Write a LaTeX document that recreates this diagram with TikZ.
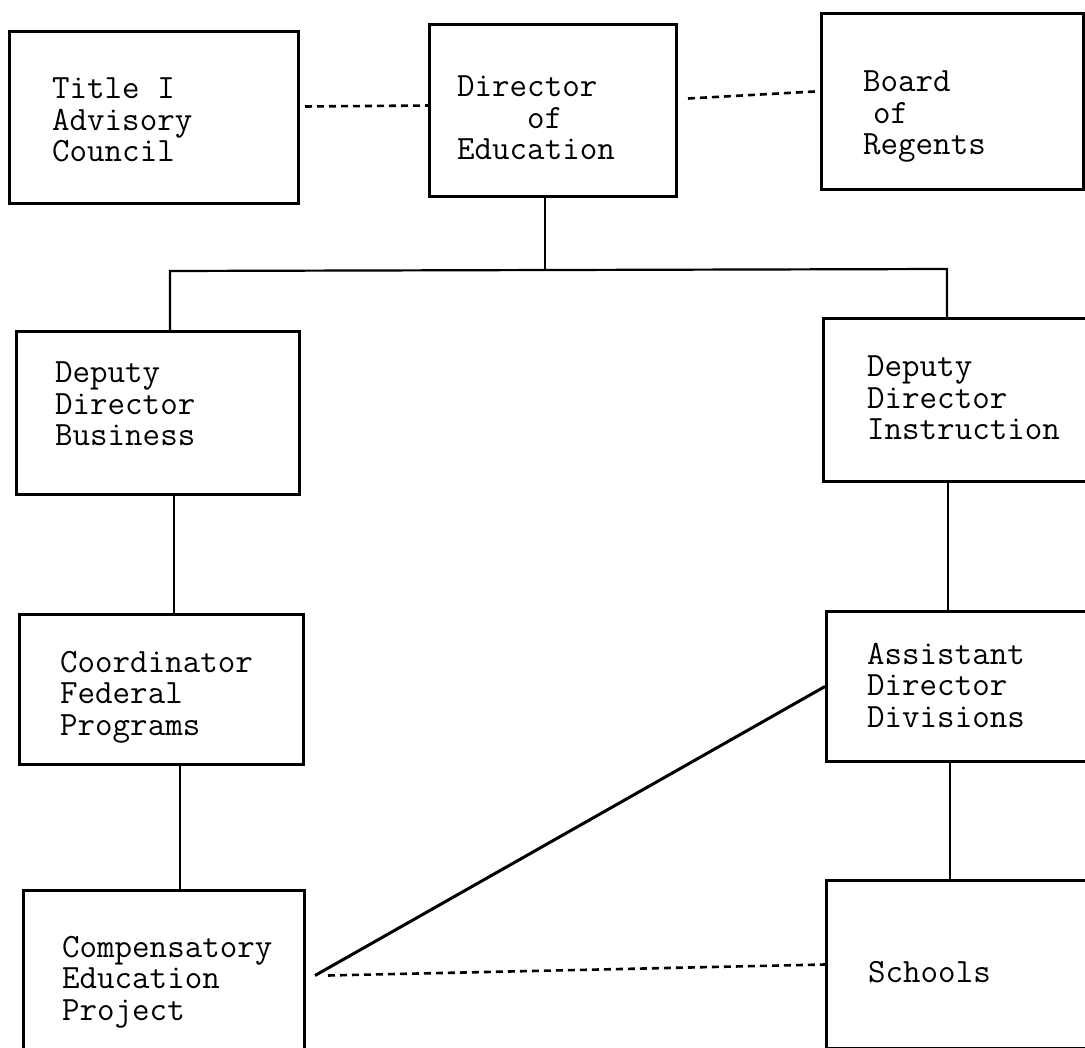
\documentclass[tikz,border=0pt]{standalone}
\usepackage{fontspec}
\begin{document}
\begin{tikzpicture}[x=1pt,y=-1pt,
  box/.style={draw, line width=3pt, rectangle, inner sep=0pt, anchor=north west},
  lbl/.style={font=\ttfamily\fontsize{34}{31.5}\selectfont, align=left, anchor=base west, inner sep=0pt},
  conn/.style={line width=2.2pt},
  diag/.style={line width=3pt},
  dconn/.style={line width=2.6pt, dash pattern=on 7pt off 5pt}]
\useasboundingbox (0,0) rectangle (1085,1048);
\clip (0,0) rectangle (1085,1048);
% boxes
\node[box, minimum width=289pt, minimum height=172pt] (title) at (8,30) {};
\node[box, minimum width=247pt, minimum height=172pt] (director) at (428,23) {};
\node[box, minimum width=262pt, minimum height=176pt] (board) at (820,12) {};
\node[box, minimum width=283pt, minimum height=163pt] (depb) at (15,330) {};
\node[box, minimum width=280pt, minimum height=163pt] (depi) at (822,317) {};
\node[box, minimum width=284pt, minimum height=150pt] (coord) at (18,613) {};
\node[box, minimum width=280pt, minimum height=150pt] (assist) at (825,610) {};
\node[box, minimum width=281pt, minimum height=170pt] (comp) at (22,889) {};
\node[box, minimum width=280pt, minimum height=168pt] (schools) at (825,879) {};
% texts (anchored at the baseline of the last line)
\node[lbl] (titletxt) at (52,162) {Title I\\Advisory\\Council};
\node[lbl] (dirtxt) at (457,160) {Director\\\hphantom{xxxx}of\\Education};
\node[lbl] (boardtxt) at (863,155) {Board\\\hspace*{10pt}of\\Regents};
\node[lbl] (depbtxt) at (55,446) {Deputy\\Director\\Business};
\node[lbl] (depitxt) at (867,440) {Deputy\\Director\\Instruction};
\node[lbl] (coordtxt) at (60,735) {Coordinator\\Federal\\Programs};
\node[lbl] (assisttxt) at (867,727) {Assistant\\Director\\Divisions};
\node[lbl] (comptxt) at (62,1020) {Compensatory\\Education\\Project};
\node[lbl] (schoolstxt) at (868,982) {Schools};
% connectors
\coordinate (jl) at (170,271);
\coordinate (jm) at (545,270);
\coordinate (jr) at (947,269);
\coordinate (cb) at (174,0);
\coordinate (cc) at (180,0);
\coordinate (ci) at (948,0);
\coordinate (cs) at (950,0);
\draw[conn] (jm |- director.south) -- (jm);
\draw[conn] (jl |- depb.north) -- (jl) -- (jr) -- (jr |- depi.north);
\draw[conn] (cb |- depb.south) -- (cb |- coord.north);
\draw[conn] (cc |- coord.south) -- (cc |- comp.north);
\draw[conn] (ci |- depi.south) -- (ci |- assist.north);
\draw[conn] (cs |- assist.south) -- (cs |- schools.north);
\draw[diag] ([xshift=9pt]comp.east) -- (assist.west);
\draw[dconn] ([xshift=22pt]comp.east) -- (schools.west);
\draw[dconn] ([xshift=5pt,yshift=11pt]title.east) -- ([yshift=5pt]director.west);
\draw[dconn] ([xshift=10pt,yshift=12pt]director.east) -- ([xshift=-5pt,yshift=10pt]board.west);
\end{tikzpicture}
\end{document}
